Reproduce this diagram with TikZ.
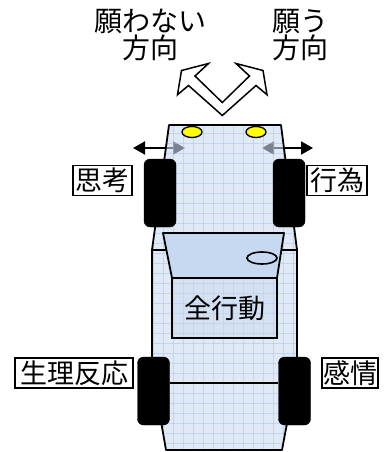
\documentclass[tikz,border=0pt]{standalone}
\usepackage{fontspec}
\newfontfamily\jp{Noto Sans CJK JP}
\usetikzlibrary{arrows.meta}
\definecolor{bodyblue}{RGB}{203,218,240}
\definecolor{gridblue}{RGB}{160,190,232}
\definecolor{glass}{RGB}{198,217,241}
\definecolor{lamp}{RGB}{255,255,0}

\begin{document}
\begin{tikzpicture}[x=1pt,y=-1pt,
  outline/.style={draw=black,line width=1.8pt,line join=round},
  tire/.style={fill=black,draw=black,rounded corners=6pt,minimum width=32pt,minimum height=68pt,inner sep=0pt},
  labelbox/.style={draw=black,fill=white,line width=1.8pt,inner sep=0pt,minimum height=30pt,font=\jp\fontsize{27}{30}\selectfont},
  steer/.style={line width=2pt,{Triangle[length=12pt,width=13pt]}-{Triangle[length=12pt,width=13pt]}},
  toptext/.style={align=center,font=\jp\fontsize{28}{27}\selectfont,inner sep=0pt},
  gridline/.style={gridblue,line width=0.6pt,opacity=0.45},
]
\useasboundingbox (0,0) rectangle (385,452);

% steering arrows (partly hidden under the translucent body)
\coordinate (la) at (133,148);
\coordinate (lb) at (185,148);
\coordinate (ra) at (313,148);
\coordinate (rb) at (262,148);
\draw[steer] (la) -- (lb);
\draw[steer] (ra) -- (rb);

% car body
\fill[bodyblue,fill opacity=0.6] (169,125) -- (281,125) -- (297,250) -- (297,370) -- (282,450) -- (166,450) -- (152,370) -- (152,250) -- cycle;
\begin{scope}
  \clip (169,125) -- (281,125) -- (297,250) -- (297,370) -- (282,450) -- (166,450) -- (152,370) -- (152,250) -- cycle;
  \foreach \gx in {143.5,153.5,...,303.5} \draw[gridline] (\gx,120) -- (\gx,455);
  \foreach \gy in {123.3,133.3,...,453.3} \draw[gridline] (145,\gy) -- (305,\gy);
\end{scope}
\draw[outline] (169,125) -- (281,125) -- (297,250) -- (152,250) -- cycle;
\draw[outline] (152,250) -- (297,250) -- (297,370) -- (282,450) -- (166,450) -- (152,370) -- cycle;

% headlights
\draw[fill=lamp,line width=1.3pt] (192,132) ellipse [x radius=10, y radius=5.5];
\draw[fill=lamp,line width=1.3pt] (256,132) ellipse [x radius=10, y radius=5.5];

% windshield and cabin
\draw[outline,fill=glass] (163,233) -- (284,233) -- (277,278) -- (172,278) -- cycle;
\node[draw,line width=1.8pt,fill=glass,fill opacity=0.45,text opacity=1,minimum width=105pt,minimum height=60pt,inner sep=0pt,font=\jp\fontsize{27}{30}\selectfont] (cab) at (224.5,308) {全行動};
\draw[line width=1.6pt] (262,258) ellipse [x radius=15, y radius=6];

% tires and rear axle
\node[tire] (fl) at (160,193) {};
\node[tire] (fr) at (289,193) {};
\node[tire] (rl) at (153.5,391) {};
\node[tire] (rr) at (294.5,391) {};
\draw[line width=2.2pt] ([yshift=8pt]rl.east) -- ([yshift=8pt]rr.west);

% wheel labels
\node[labelbox,minimum width=59pt] (think) at (102.5,180.5) {思考};
\node[labelbox,minimum width=60pt] (act) at (337,180.5) {行為};
\node[labelbox,minimum width=118pt] (phys) at (74,373) {生理反応};
\node[labelbox,minimum width=56pt] (feel) at (350,373) {感情};

% V-shaped double arrow
\draw[line width=1.5pt,fill=white,line join=miter] (177.5,94.7) -- (181.5,70.5) -- (208.5,63.5) -- (195,76) -- (222.3,102.5) -- (249.5,76) -- (236,63.5) -- (263,70.5) -- (267,94.7) -- (256,85.5) -- (222.3,115.5) -- (188.5,85.5) -- cycle;

% direction captions
\node[toptext] (avoid) at (150,35) {願わない\\方向};
\node[toptext] (wish) at (300.5,35) {願う\\方向};
\end{tikzpicture}
\end{document}
